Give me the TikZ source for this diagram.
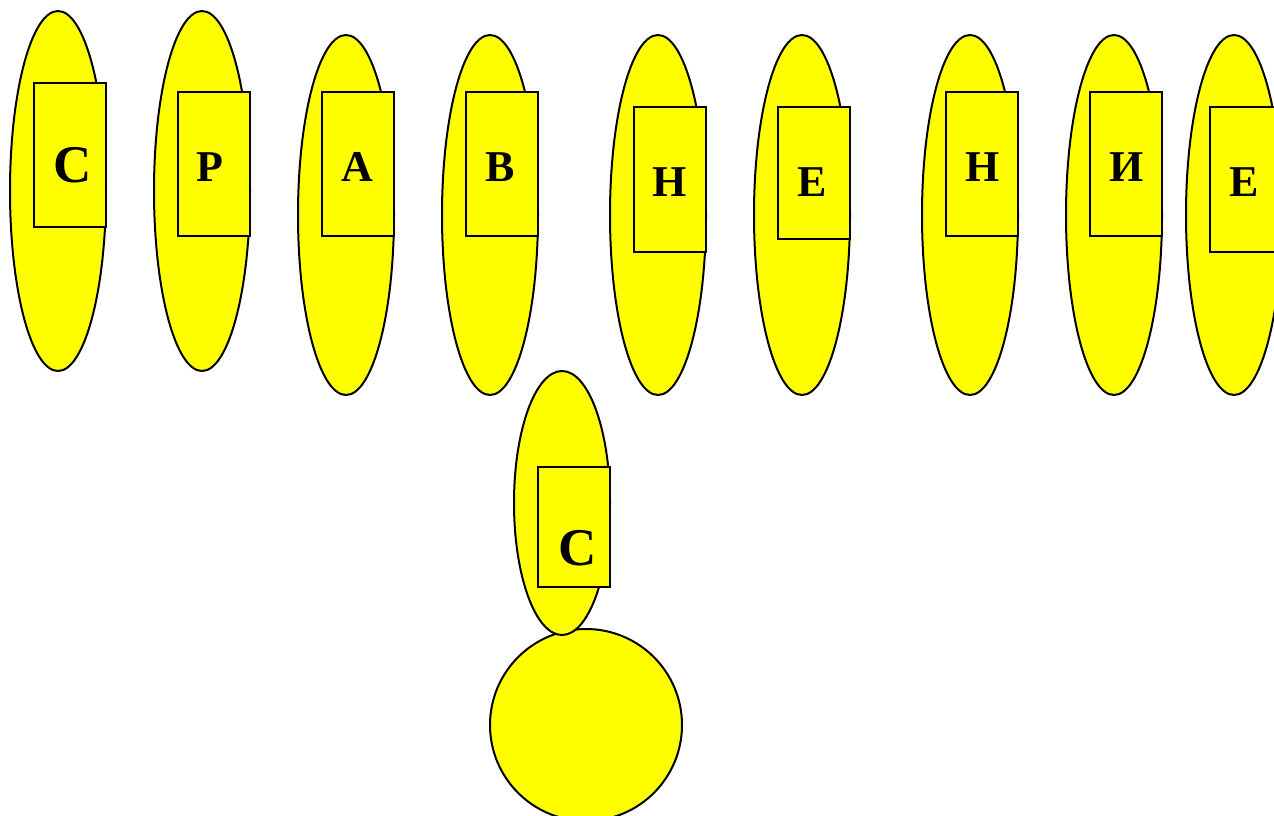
\documentclass[tikz,border=0pt]{standalone}
\usepackage{fontspec}
\setmainfont{Liberation Serif}
\usetikzlibrary{shapes.geometric}
\definecolor{yel}{RGB}{255,255,0}
\tikzset{
  oval/.style={ellipse, draw=black, fill=yel, line width=2pt, inner sep=0pt, minimum width=96pt, minimum height=360pt},
  lbox/.style={rectangle, draw=black, fill=yel, line width=2pt, inner sep=0pt, minimum width=72pt},
  letter/.style={anchor=base, inner sep=0pt, font=\fontsize{44}{44}\selectfont\bfseries},
  bigletter/.style={anchor=base, inner sep=0pt, font=\fontsize{53}{53}\selectfont\bfseries}
}
\begin{document}
\begin{tikzpicture}[x=1pt,y=-1pt]
\path[use as bounding box] (0,0) rectangle (1274,816);
\clip (0,0) rectangle (1274,816);
% ovals
\node[oval] (e1) at (58,191) {};
\node[oval] (e2) at (202,191) {};
\node[oval] (e3) at (346,215) {};
\node[oval] (e4) at (490,215) {};
\node[oval] (e5) at (658,215) {};
\node[oval] (e6) at (802,215) {};
\node[oval] (e7) at (970,215) {};
\node[oval] (e8) at (1114,215) {};
\node[oval] (e9) at (1234,215) {};
% boxes
\node[lbox, minimum height=144pt] (r1) at (70,155) {};
\node[lbox, minimum height=144pt] (r2) at (214,164) {};
\node[lbox, minimum height=144pt] (r3) at (358,164) {};
\node[lbox, minimum height=144pt] (r4) at (502,164) {};
\node[lbox, minimum height=145pt] (r5) at (670,179.5) {};
\node[lbox, minimum height=132pt] (r6) at (814,173) {};
\node[lbox, minimum height=144pt] (r7) at (982,164) {};
\node[lbox, minimum height=144pt] (r8) at (1126,164) {};
\node[lbox, minimum height=145pt] (r9) at (1246,179.5) {};
% letters
\node[bigletter] (l1) at (72.5,182) {С};
\node[letter] (l2) at (210,181) {Р};
\node[letter] (l3) at (357,181) {А};
\node[letter] (l4) at (500,181) {В};
\node[letter] (l5) at (670,196) {Н};
\node[letter] (l6) at (812,196) {Е};
\node[letter] (l7) at (983,181) {Н};
\node[letter] (l8) at (1127,181) {И};
\node[letter] (l9) at (1244,196) {Е};
% bottom figure
\node[circle, draw=black, fill=yel, line width=2pt, inner sep=0pt, minimum size=192pt] (c) at (586,725) {};
\node[oval, minimum height=264pt] (e10) at (562,503) {};
\node[lbox, minimum height=120pt] (r10) at (574,527) {};
\node[bigletter] (l10) at (577.5,565) {С};
\end{tikzpicture}
\end{document}
